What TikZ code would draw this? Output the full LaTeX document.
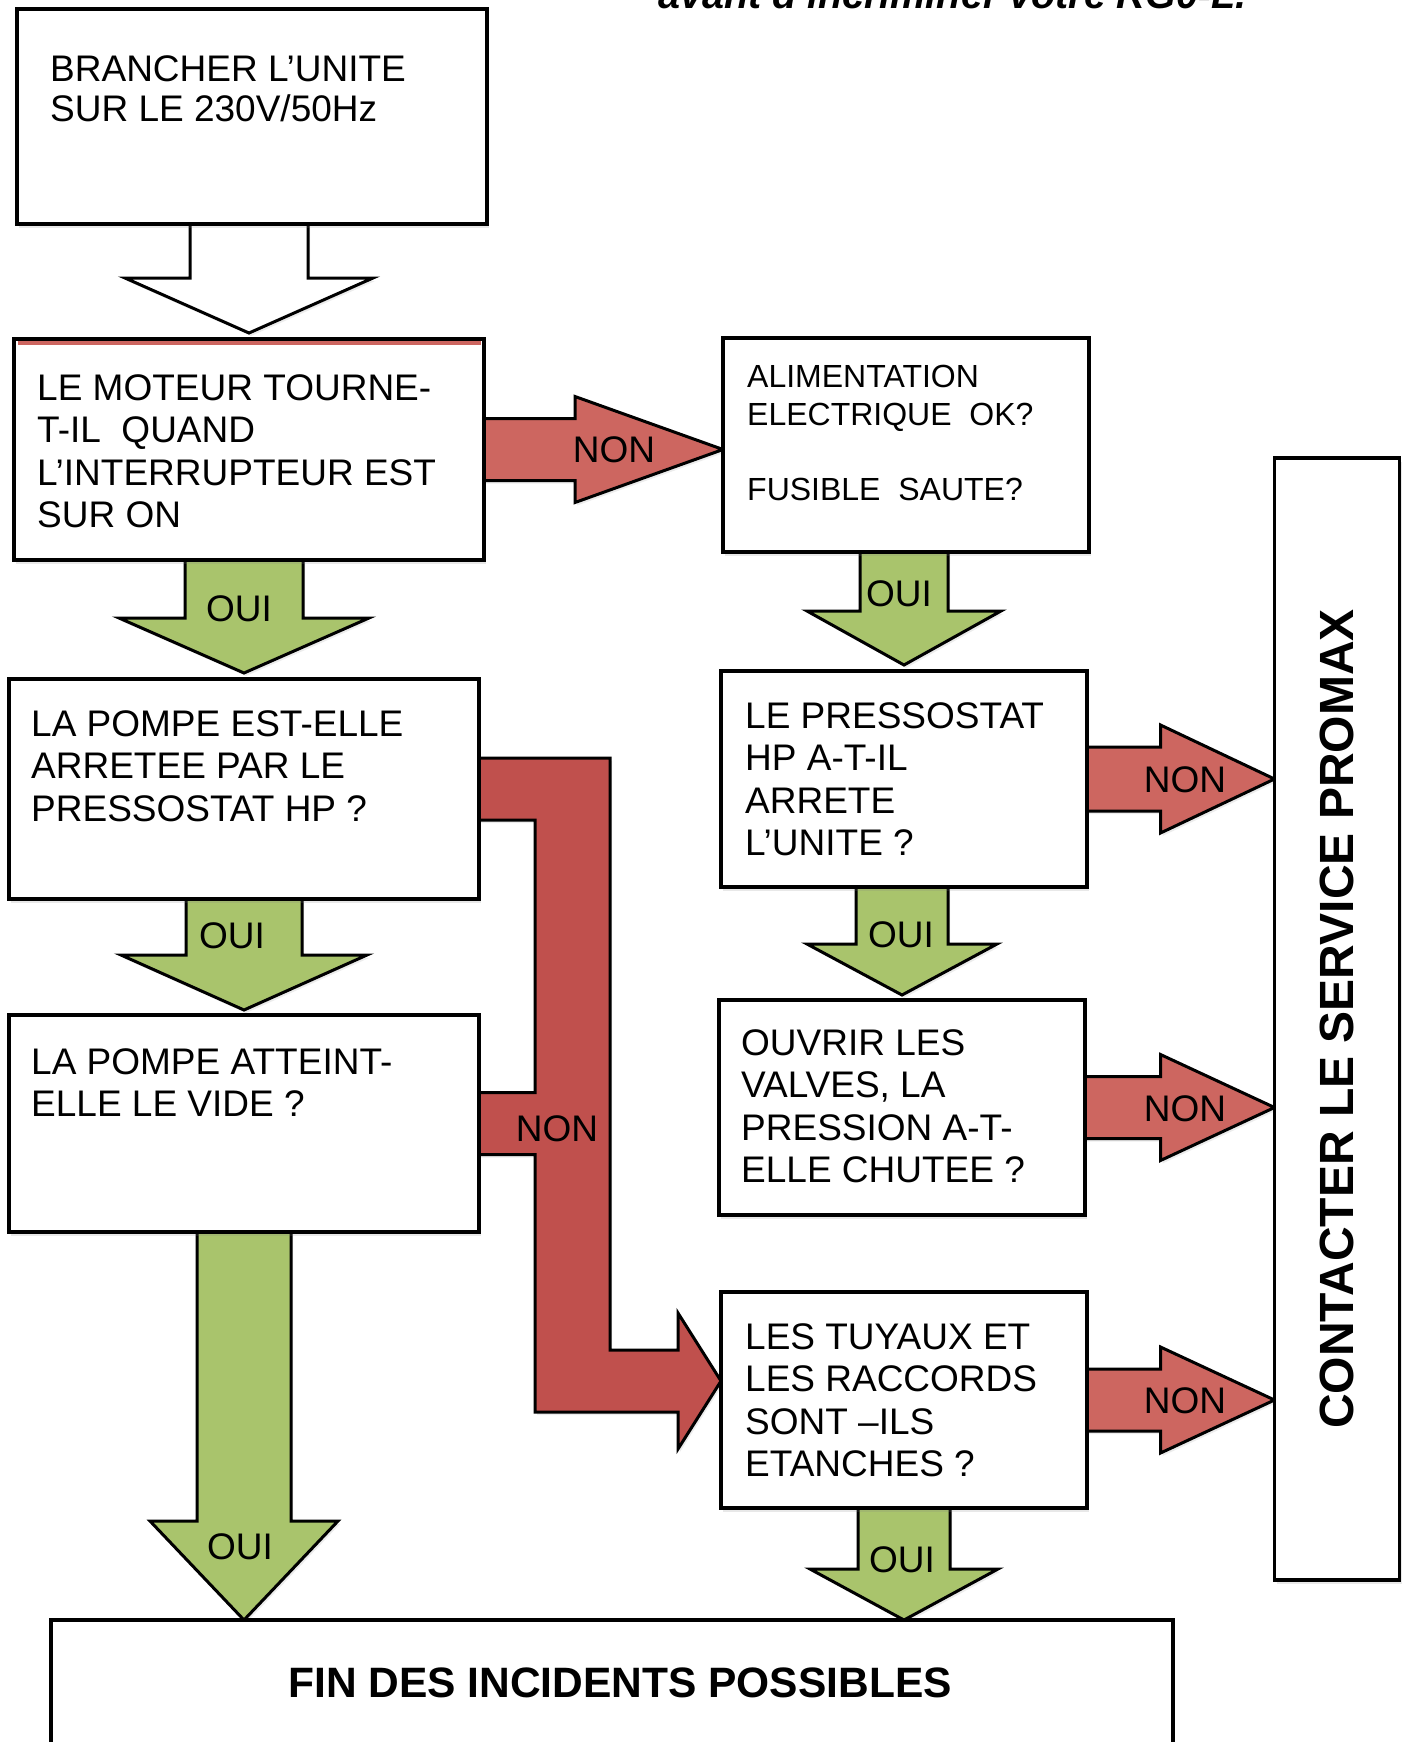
\documentclass[tikz,border=0pt]{standalone}
\usepackage{fontspec}
\setmainfont{Liberation Sans}
\usepackage{graphicx}
\usetikzlibrary{positioning,calc,backgrounds,shadows}

\definecolor{ouiGreen}{HTML}{A9C46C}
\definecolor{nonRed}{HTML}{CD6660}
\definecolor{nonDeep}{HTML}{C0504D}

% block arrows: style, from, tip, half shaft, half head, head length
\newcommand\fatdown[6]{%
  \draw[#1] let \p1=#2, \p2=#3 in
    (\x2-#4,\y1+4) -- (\x2-#4,\y2+#6) -- (\x2-#5,\y2+#6) -- (\x2,\y2)
    -- (\x2+#5,\y2+#6) -- (\x2+#4,\y2+#6) -- (\x2+#4,\y1+4);}
\newcommand\fatright[6]{%
  \draw[#1] let \p1=#2, \p2=#3 in
    (\x1-4,\y2+#4) -- (\x2-#6,\y2+#4) -- (\x2-#6,\y2+#5) -- (\x2,\y2)
    -- (\x2-#6,\y2-#5) -- (\x2-#6,\y2-#4) -- (\x1-4,\y2-#4);}

\tikzset{
  qbox/.style={draw,line width=3.5pt,fill=white,inner sep=0pt,outer sep=0pt,
    drop shadow={opacity=0.18,shadow xshift=2pt,shadow yshift=-4pt}},
  qtext/.style={font=\fontsize{37}{42.5}\selectfont,align=left,inner sep=0pt,anchor=north west},
  lbl/.style={font=\fontsize{37}{42}\selectfont,inner sep=0pt},
  ouiarrow/.style={draw,line width=3pt,fill=ouiGreen,
    drop shadow={opacity=0.15,shadow xshift=2pt,shadow yshift=-3pt}},
  nonarrow/.style={draw,line width=3pt,fill=nonRed,
    drop shadow={opacity=0.15,shadow xshift=2pt,shadow yshift=-3pt}},
  bignon/.style={draw,line width=3pt,fill=nonDeep,
    drop shadow={opacity=0.15,shadow xshift=2pt,shadow yshift=-3pt}},
  plainarrow/.style={draw,line width=3pt,fill=white,
    drop shadow={opacity=0.15,shadow xshift=2pt,shadow yshift=-3pt}},
}

\begin{document}
\begin{tikzpicture}[x=1pt,y=-1pt]
  \useasboundingbox (0,0) rectangle (1407,1742);

  \node[font=\fontsize{39.5}{45}\selectfont\bfseries\itshape,anchor=base west,inner sep=0pt]
    (avant) at (658,9) {avant d’incriminer votre RG0-L.};

  % left column
  \node[qbox,anchor=north west,minimum width=470pt,minimum height=215pt] (branch) at (17,9) {};
  \node[qbox,anchor=north west,minimum width=470pt,minimum height=221pt] (moteur) at (14,339) {};
  \draw[nonRed,line width=4pt] ($(moteur.north west)+(3.5,4)$) -- ($(moteur.north east)+(-3.5,4)$);
  \node[qbox,anchor=north west,minimum width=470pt,minimum height=220pt] (pompehp) at (9,679) {};
  \node[qbox,anchor=north west,minimum width=470pt,minimum height=217pt] (pompevide) at (9,1015) {};

  % right column
  \node[qbox,anchor=north west,minimum width=366pt,minimum height=214pt] (alim) at (723,338) {};
  \node[qbox,anchor=north west,minimum width=366pt,minimum height=216pt] (pressohp) at (721,671) {};
  \node[qbox,anchor=north west,minimum width=366pt,minimum height=215pt] (valves) at (719,1000) {};
  \node[qbox,anchor=north west,minimum width=366pt,minimum height=216pt] (tuyaux) at (721,1292) {};

  \node[qbox,minimum width=125pt,minimum height=1122pt,font=\fontsize{48}{52}\selectfont\bfseries]
    (contact) at (1337,1019) {\rotatebox{90}{CONTACTER LE SERVICE PROMAX}};
  \node[qbox,anchor=north west,minimum width=1122pt,minimum height=126pt,
        font=\fontsize{42.5}{46}\selectfont\bfseries] (fin) at (51,1620) {\hspace*{16pt}FIN DES INCIDENTS POSSIBLES};

  % texts
  \node[qtext,font=\fontsize{37}{40}\selectfont,below right=46pt and 33pt of branch.north west] (branchtxt)
    {BRANCHER L’UNITE\\SUR LE 230V/50Hz};
  \node[qtext,below right=35pt and 23pt of moteur.north west] (moteurtxt)
    {LE MOTEUR TOURNE-\\T-IL\ \ QUAND\\L’INTERRUPTEUR EST\\SUR ON};
  \node[qtext,below right=31pt and 22pt of pompehp.north west] (pompehptxt)
    {LA POMPE EST-ELLE\\ARRETEE PAR LE\\PRESSOSTAT HP ?};
  \node[qtext,below right=33pt and 22pt of pompevide.north west] (pompevidetxt)
    {LA POMPE ATTEINT-\\ELLE LE VIDE ?};
  \node[qtext,font=\fontsize{32}{37.5}\selectfont,below right=27pt and 24pt of alim.north west] (alimtxt)
    {ALIMENTATION\\ELECTRIQUE\ \ OK?\\[37.5pt]FUSIBLE\ \ SAUTE?};
  \node[qtext,below right=31pt and 24pt of pressohp.north west] (pressohptxt)
    {LE PRESSOSTAT\\HP A-T-IL\\ARRETE\\L’UNITE ?};
  \node[qtext,below right=29pt and 22pt of valves.north west] (valvestxt)
    {OUVRIR LES\\VALVES, LA\\PRESSION A-T-\\ELLE CHUTEE ?};
  \node[qtext,below right=31pt and 24pt of tuyaux.north west] (tuyauxtxt)
    {LES TUYAUX ET\\LES RACCORDS\\SONT –ILS\\ETANCHES ?};

  % block arrows
  \begin{scope}[on background layer]
    \fatdown{plainarrow}{(branch.south)}{($(moteur.north)+(0,-6)$)}{59}{124}{55}
    \fatdown{ouiarrow}{(moteur.south)}{($(pompehp.north)+(0,-6)$)}{59}{125}{55}
    \fatdown{ouiarrow}{(pompehp.south)}{($(pompevide.north)+(0,-5)$)}{58}{123}{55}
    \fatdown{ouiarrow}{(pompevide.south)}{(pompevide.south |- fin.north)}{47}{94}{99}
    \fatdown{ouiarrow}{(alim.south)}{($(pressohp.north)+(0,-6)$)}{44}{97}{54}
    \fatdown{ouiarrow}{(pressohp.south)}{($(valves.north)+(0,-5)$)}{46}{95}{51}
    \fatdown{ouiarrow}{(tuyaux.south)}{(tuyaux.south |- fin.north)}{46}{94}{51}
    \fatright{nonarrow}{(moteur.east)}{(moteur.east -| alim.west)}{31}{53}{148}
    \fatright{nonarrow}{(pressohp.east)}{(pressohp.east -| contact.west)}{32}{54}{114}
    \fatright{nonarrow}{(valves.east)}{(valves.east -| contact.west)}{31}{53}{114}
    \fatright{nonarrow}{(tuyaux.east)}{(tuyaux.east -| contact.west)}{31}{53}{114}
    \draw[bignon] let \p1=(pompehp.east), \p2=(pompevide.east), \p3=($(tuyaux.west)+(0,-19)$) in
      (\x1-4,\y1+31) -- (\x1+131,\y1+31) -- (\x1+131,\y3+31) -- (\x3-43,\y3+31)
      -- (\x3-43,\y3+68) -- (\x3,\y3) -- (\x3-43,\y3-68) -- (\x3-43,\y3-31)
      -- (\x1+56,\y3-31) -- (\x1+56,\y2-31) -- (\x2-4,\y2-31) -- (\x2-4,\y2+31)
      -- (\x1+56,\y2+31) -- (\x1+56,\y1-31) -- (\x1-4,\y1-31) -- cycle;
  \end{scope}

  % arrow labels
  \node[lbl] (oui1) at (239,609) {OUI};
  \node[lbl] (oui2) at (232,936) {OUI};
  \node[lbl] (oui3) at (240,1547) {OUI};
  \node[lbl] (oui4) at (899,594) {OUI};
  \node[lbl] (oui5) at (901,935) {OUI};
  \node[lbl] (oui6) at (902,1560) {OUI};
  \node[lbl] (non1) at (614,450) {NON};
  \node[lbl] (non2) at (1185,780) {NON};
  \node[lbl] (non3) at (1185,1109) {NON};
  \node[lbl] (non4) at (1185,1401) {NON};
  \node[lbl] (non5) at (557,1129) {NON};
\end{tikzpicture}
\end{document}
